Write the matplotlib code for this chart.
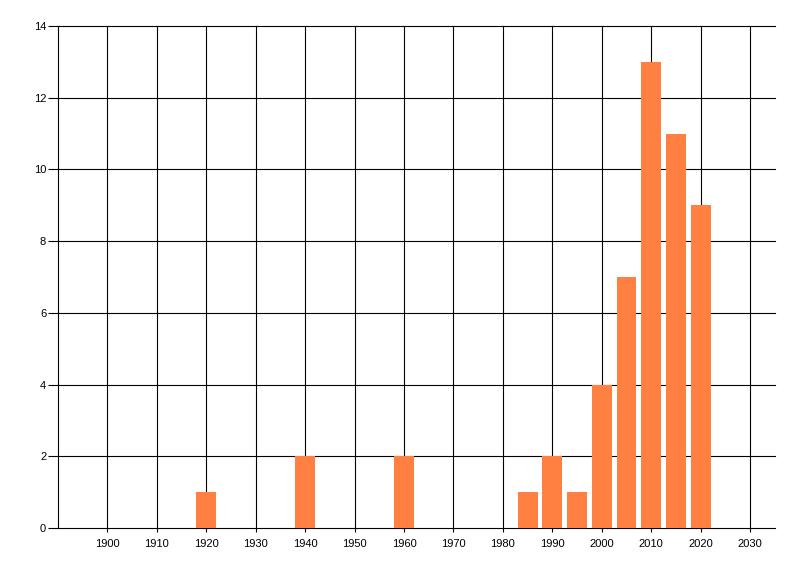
import matplotlib
matplotlib.use("Agg")
import matplotlib.pyplot as plt

years = [1920, 1940, 1960, 1985, 1990, 1995, 2000, 2005, 2010, 2015, 2020]
counts = [1, 2, 2, 1, 2, 1, 4, 7, 13, 11, 9]
x_ticks = list(range(1900, 2031, 10))
y_ticks = list(range(0, 15, 2))

plt.rcParams['font.family'] = ['Liberation Sans', 'DejaVu Sans']

fig = plt.figure(figsize=(8, 5.76), dpi=100)
ax = fig.add_axes([58/800, 48/576, (775.3-58)/800, (528-26)/576])

ax.set_xlim(1890, 2035.1)
ax.set_ylim(0, 14)
ax.set_xticks(x_ticks)
ax.set_yticks(y_ticks)
ax.set_xticklabels([str(t) for t in x_ticks])
ax.set_yticklabels([str(t) for t in y_ticks])

ax.grid(True, color='black', linewidth=0.8, zorder=0)
ax.set_axisbelow(True)
for ln in ax.get_xgridlines() + ax.get_ygridlines():
    ln.set_clip_on(False)
ax.bar(years, counts, width=4, color='#FF8040', zorder=2)

for s in ['top', 'right', 'bottom']:
    ax.spines[s].set_visible(False)
ax.spines['left'].set_linewidth(0.8)
ax.tick_params(axis='y', length=7, width=0.8, labelsize=8, pad=1.5, colors='black')
ax.tick_params(axis='x', length=3, width=0.8, labelsize=8, pad=5, colors='black')

fig.savefig('out.png', dpi=100)
